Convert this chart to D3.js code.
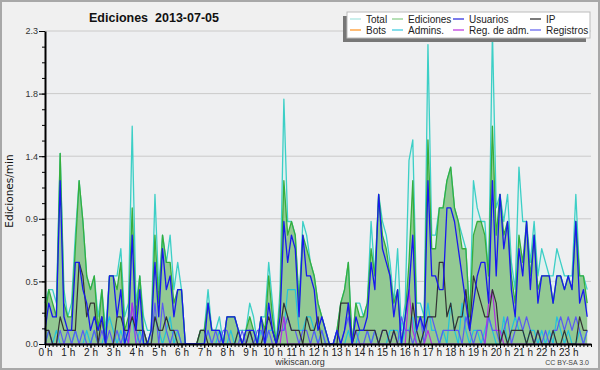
<!DOCTYPE html>
<html>
<head>
<meta charset="utf-8">
<script src="https://cdn.jsdelivr.net/npm/d3@7"></script>
<style>
  body { margin: 0; background: #f0f0f0; }
  svg { display: block; }
</style>
</head>
<body>
<script>
// values per 10 minutes (edits/min), one row per hour
var total = [
  0.3,0.4,0.4,0.3,1.4,0.4,  0.2,0.3,0.8,1.2,0.9,0.5,  0.4,0.5,0.2,0.4,0.1,0.5,  0.5,0.5,0.7,0.2,0.3,1.6,
  0.3,0.5,0.2,0.1,0.1,1.1,  0.4,0.8,0.6,0.8,0.4,0.6,  0.4,0,0,0,0,0.1,          0.1,0.4,0.1,0.1,0.2,0,
  0.2,0.2,0.2,0.1,0.1,0.1,  0.3,0.2,0,0.2,0.2,0.6,    0.3,0,0.4,1.8,0.9,0.9,    0.8,0.3,0.9,0.8,0.6,0.5,
  0.3,0.2,0.1,0,0,0.1,      0.3,0.4,0.6,0,0.3,0.3,    0.2,0.3,0.9,0.5,1.1,0.9,  0.8,0.6,0.3,0.7,0.1,0.3,
  1.35,1.5,0.3,0.3,0.2,2.2, 0.8,0.8,1.0,1.0,1.2,1.3,  1.0,0.9,0.8,0.7,0.2,1.2,  1.0,0.9,0.9,0.5,2.3,1.0,
  1.1,0.9,1.1,0.6,0.4,1.3,  0.9,0.9,0.6,0.9,0.5,0.7,  0.6,0.5,0.5,0.7,0.6,0.5,  0.5,0.5,1.1,0.5,0.5,0.4
]
var ediciones = [
  0.2,0.4,0.3,0.2,1.4,0.3,  0.2,0.2,0.7,1.2,0.9,0.5,  0.4,0.5,0.1,0.4,0,0.5,    0.5,0.4,0.6,0.1,0.2,1.0,
  0.2,0.5,0.1,0,0.1,0.8,    0.3,0.8,0.6,0.6,0.3,0.4,  0.4,0,0,0,0,0.1,          0.1,0.3,0.1,0.1,0.1,0,
  0.2,0.2,0.2,0.1,0,0.1,    0.2,0.1,0,0.2,0.1,0.5,    0.2,0,0.3,1.2,0.8,0.9,    0.8,0.3,0.8,0.7,0.6,0.5,
  0.3,0.2,0.1,0,0,0.1,      0.3,0.4,0.6,0,0.3,0.2,    0.2,0.3,0.7,0.5,1.1,0.8,  0.7,0.5,0.3,0.4,0,0.2,
  0.6,1.2,0.2,0.2,0.2,1.5,  0.7,0.7,1.0,1.0,1.2,1.3,  1.0,0.9,0.7,0.7,0.2,0.8,  0.9,0.9,0.8,0.5,1.6,0.8,
  1.1,0.8,0.9,0.5,0.3,0.8,  0.6,0.9,0.5,0.8,0.4,0.5,  0.5,0.5,0.3,0.5,0.5,0.4,  0.5,0.4,0.9,0.5,0.5,0.3
]
var usuarios = [
  0.1,0.3,0.2,0.2,1.2,0.2,  0.1,0.1,0.6,0.6,0.4,0.3,  0.1,0.2,0.1,0.2,0,0.5,    0.5,0.2,0.4,0,0.1,0.8,
  0.1,0.4,0,0,0.1,0.6,      0.2,0.7,0.4,0.5,0.2,0.4,  0.4,0,0,0,0,0,            0,0.3,0.1,0.1,0.1,0,
  0.2,0.2,0.2,0.1,0,0.1,    0.1,0.1,0,0.2,0,0.3,      0.1,0,0.2,0.9,0.6,0.8,    0.7,0.2,0.8,0.5,0.5,0.4,
  0.1,0.2,0.1,0,0,0.1,      0,0.1,0.3,0,0.2,0.1,      0.1,0.2,0.6,0.4,1.1,0.7,  0.6,0.5,0.2,0.4,0,0.2,
  0.4,0.8,0.1,0.2,0.1,1.2,  0.5,0.5,0.4,0.4,1.0,1.0,  0.9,0.7,0.5,0.3,0.1,0.3,  0.5,0.6,0.6,0.3,1.2,0.5,
  1.1,0.7,0.9,0.4,0.2,0.7,  0.5,0.9,0.4,0.8,0.3,0.5,  0.5,0.5,0.3,0.5,0.5,0.4,  0.5,0.4,0.9,0.3,0.4,0.2
]
var ip = [
  0.1,0.1,0,0,0.2,0.1,      0.1,0.1,0.1,0.6,0.5,0.2,  0.3,0.3,0,0.2,0,0,        0,0.2,0.2,0.1,0.1,0.2,
  0.1,0.1,0.1,0,0,0.2,      0.1,0.1,0.2,0.1,0.1,0,    0,0,0,0,0,0.1,            0.1,0,0,0,0,0,
  0,0,0,0.1,0,0,            0.1,0,0,0,0.1,0.2,        0.1,0,0.1,0.3,0.2,0.1,    0.1,0.1,0,0.2,0.1,0.1,
  0.2,0,0,0,0,0,            0.3,0.3,0.3,0,0.1,0.1,    0.1,0.1,0.1,0.1,0,0.1,    0.1,0,0.1,0,0,0,
  0,0.3,0.1,0,0.1,0.2,      0.2,0.2,0.6,0.6,0.2,0.3,  0.1,0.2,0.2,0.4,0.1,0.5,  0.4,0.3,0.2,0.2,0.4,0.3,
  0,0.1,0,0.1,0.1,0.1,      0.1,0,0.1,0,0.1,0,        0,0,0.1,0,0,0.1,          0,0,0,0.2,0.1,0.1
]
var admins = [
  0,0.1,0,0.1,0,0,          0,0,0.1,0,0,0.1,          0,0.1,0,0,0.1,0.2,        0.1,0,0.1,0,0.1,0.2,
  0,0.1,0,0,0,0.2,          0.1,0,0.1,0.2,0,0.1,      0,0,0,0,0,0,              0,0.1,0,0,0.1,0,
  0,0.1,0,0.1,0,0,          0.1,0,0,0.1,0,0.1,        0.1,0,0.1,0.1,0.4,0.4,    0.4,0.1,0.1,0.2,0.2,0.1,
  0,0.1,0,0,0,0,            0,0,0.1,0,0,0.1,          0.1,0.1,0,0.1,0,0,        0,0.1,0.1,0.1,0,0.1,
  0.1,0.2,0,0,0.1,0.3,      0.1,0.1,0,0.1,0,0.3,      0.1,0,0.3,0.1,0,0.1,      0.1,0,0.1,0.2,0.1,0,
  0,0.2,0,0.1,0.2,0.1,      0.1,0,0.1,0.1,0,0.1,      0,0.1,0,0.2,0.1,0,        0.1,0,0,0.1,0,0.1
]
var registros = [
  0,0.1,0,0,0.1,0,          0.1,0,0.1,0,0.1,0,        0,0.1,0,0.1,0,0.1,        0,0.1,0,0.1,0,0.3,
  0.1,0,0.1,0,0,0.3,        0,0.3,0.1,0,0.1,0.1,      0,0,0,0,0,0,              0,0.1,0,0.1,0,0.1,
  0.1,0,0,0,0.1,0,          0.1,0,0.1,0.1,0,0.1,      0,0,0.1,0.1,0.2,0.1,      0.1,0,0.1,0.1,0,0.1,
  0,0.1,0,0,0,0.1,          0,0.1,0.2,0,0.1,0,        0,0.1,0,0.1,0,0.1,        0.1,0,0.1,0,0.2,0.1,
  0.1,0,0.1,0.2,0,0.2,      0.2,0.1,0,0.1,0.1,0.1,    0.1,0.1,0,0.2,0.1,0,      0.1,0.1,0,0.2,0.1,0.1,
  0,0.1,0.2,0,0.1,0.2,      0.1,0.2,0.1,0,0.1,0,      0.1,0,0.1,0.1,0.2,0.1,    0.2,0.1,0.2,0.1,0,0.1
]
var regAdm = [
  0,0,0,0,0,0,              0,0,0,0,0,0,              0,0,0,0,0,0,              0,0,0,0,0,0.3,
  0,0,0,0,0,0,              0,0,0,0,0,0,              0,0,0,0,0,0,              0,0,0,0,0,0,
  0,0,0,0,0,0,              0,0,0,0,0,0,              0,0,0,0.2,0,0,            0,0,0,0,0,0,
  0,0,0,0,0,0,              0,0,0,0,0,0,              0,0,0,0,0,0,              0,0,0,0,0,0,
  0.4,0.1,0,0,0,0.1,        0,0,0,0,0,0,              0,0,0,0,0,0,              0,0,0,0.3,0.4,0.1,
  0.1,0,0,0,0,0,            0,0,0,0,0,0,              0,0,0,0,0,0,              0,0,0,0,0,0
]

var hourLabels = ["0 h","1 h","2 h","3 h","4 h","5 h","6 h","7 h","8 h","9 h","10 h","11 h",
                  "12 h","13 h","14 h","15 h","16 h","17 h","18 h","19 h","20 h","21 h","22 h","23 h"]
var yTicks = [0, 0.46, 0.92, 1.38, 1.84, 2.3]
var yLabels = ["0.0", "0.5", "0.9", "1.4", "1.8", "2.3"]

var legendNames = ["Total","Ediciones","Usuarios","IP","Bots","Admins.","Reg. de adm.","Registros"]
var legendColors = ["#aee6e2","#8fd08f","#3434e0","#333333","#ff9a2e","#44cce0","#c040e0","#6a6af0"]

var svg = d3.select("body").append("svg")
    .attr("width", 600)
    .attr("height", 370)
    .style("font-family", "'Liberation Sans', Arial, sans-serif")

svg.append("rect")
    .attr("x", 1).attr("y", 1).attr("width", 598).attr("height", 368)
    .attr("fill", "#f0f0f0").attr("stroke", "#a8a8a8").attr("stroke-width", 2)

var xScale = d3.scaleLinear().domain([0, 144]).range([45, 591])
var yScale = d3.scaleLinear().domain([0, 2.3]).range([344, 31])

svg.append("rect")
    .attr("x", 45).attr("y", 31).attr("width", 546).attr("height", 313)
    .attr("fill", "#eeeff1")

// grid
svg.append("g").selectAll("line")
    .data(yTicks.slice(1))
    .enter().append("line")
      .attr("x1", 45).attr("x2", 591)
      .attr("y1", d => yScale(d)).attr("y2", d => yScale(d))
      .attr("stroke", "#cacaca").attr("stroke-width", 1)

var idx = d3.range(total.length)

var area = function(vals) {
    return d3.area()
        .x(i => xScale(i))
        .y0(yScale(0))
        .y1(i => yScale(vals[i]))(idx)
}
var line = function(vals) {
    return d3.line()
        .x(i => xScale(i))
        .y(i => yScale(vals[i]))(idx)
}

svg.append("path").attr("d", area(total)).attr("fill", "#d8f0ee").attr("opacity", 0.6)
svg.append("path").attr("d", area(ediciones)).attr("fill", "#93c993")

var series = [
    {vals: total, color: "#3ccfc6", w: 1.3},
    {vals: ediciones, color: "#36ae3c", w: 1.3},
    {vals: admins, color: "#22c2dc", w: 1.2},
    {vals: registros, color: "#5a5af2", w: 1.2},
    {vals: regAdm, color: "#b030e0", w: 1.2},
    {vals: ip, color: "#333333", w: 1.2},
    {vals: usuarios, color: "#1818ee", w: 1.3}
]
svg.append("g").selectAll("path")
    .data(series)
    .enter().append("path")
      .attr("d", d => line(d.vals))
      .attr("fill", "none")
      .attr("stroke", d => d.color)
      .attr("stroke-width", d => d.w)
      .attr("stroke-linejoin", "round")

// axes
var yAxis = d3.axisLeft(yScale)
    .tickValues(yTicks)
    .tickFormat((d, i) => yLabels[i])
    .tickSize(6).tickSizeOuter(0).tickPadding(1)
var yMinor = d3.axisLeft(yScale)
    .tickValues(d3.range(0, 2.31, 0.115))
    .tickFormat("").tickSize(3).tickSizeOuter(0)

var gy = svg.append("g").attr("transform", "translate(45,0)").call(yAxis)
svg.append("g").attr("transform", "translate(45,0)").call(yMinor).select(".domain").remove()
gy.select(".domain").attr("stroke-width", 2)
gy.selectAll("text").attr("font-size", 9).attr("fill", "#333").attr("font-family", "'Liberation Sans', Arial, sans-serif")

var xAxis = d3.axisBottom(xScale)
    .tickValues(d3.range(0, 144, 6))
    .tickFormat((d, i) => hourLabels[i])
    .tickSize(4).tickSizeOuter(0).tickPadding(1)
var xMinor = d3.axisBottom(xScale)
    .tickValues(d3.range(0, 145))
    .tickFormat("").tickSize(3).tickSizeOuter(0)

svg.append("g").attr("transform", "translate(0,344)").call(xMinor).select(".domain").remove()
var gx = svg.append("g").attr("transform", "translate(0,344)").call(xAxis)
gx.select(".domain").attr("stroke-width", 2)
gx.selectAll("text").attr("font-size", 10).attr("fill", "#222").attr("font-family", "'Liberation Sans', Arial, sans-serif")

// labels
svg.append("text")
    .text("Ediciones  2013-07-05")
    .attr("x", 154).attr("y", 22)
    .attr("text-anchor", "middle")
    .attr("font-weight", "bold")
    .attr("font-size", 12.5)
    .attr("fill", "#111")
    .style("white-space", "pre")

svg.append("text")
    .text("Ediciones/min")
    .attr("transform", "translate(13,191) rotate(-90)")
    .attr("text-anchor", "middle")
    .attr("font-size", 10.5)
    .attr("font-family", "'DejaVu Sans', sans-serif")
    .attr("fill", "#111")

svg.append("text")
    .text("wikiscan.org")
    .attr("x", 300).attr("y", 365)
    .attr("text-anchor", "middle")
    .attr("font-size", 9)
    .attr("fill", "#333")

svg.append("text")
    .text("CC BY-SA 3.0")
    .attr("x", 589).attr("y", 365)
    .attr("text-anchor", "end")
    .attr("font-size", 7)
    .attr("fill", "#444")

// legend
var lg = svg.append("g")
lg.append("rect").attr("x", 343).attr("y", 16).attr("width", 243).attr("height", 26).attr("fill", "#777")
lg.append("rect").attr("x", 347).attr("y", 12).attr("width", 243).attr("height", 26)
    .attr("fill", "#ffffff").attr("stroke", "#bbbbbb")
var colX = [350, 392, 453, 530]
var items = lg.selectAll("g.item")
    .data(legendNames)
    .enter().append("g")
      .attr("transform", (d, i) => "translate(" + colX[i % 4] + "," + (i < 4 ? 19 : 30) + ")")
items.append("line")
    .attr("x1", 0).attr("x2", 11)
    .attr("stroke", (d, i) => legendColors[i])
    .attr("stroke-width", 1.3)
items.append("text")
    .text(d => d)
    .attr("x", 16).attr("y", 3.5)
    .attr("font-size", 10)
    .attr("fill", "#222")
</script>
</body>
</html>
